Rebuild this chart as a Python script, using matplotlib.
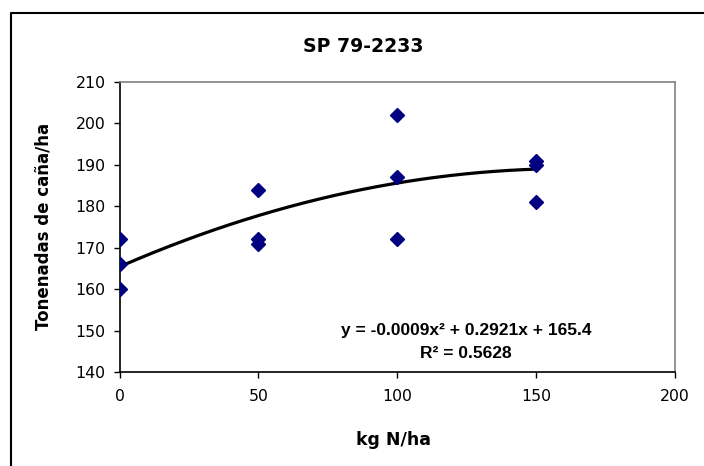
import numpy as np
import matplotlib
matplotlib.use("Agg")
import matplotlib.pyplot as plt
from matplotlib.lines import Line2D

# datos
dosis_n = [0, 0, 0, 50, 50, 50, 100, 100, 100, 150, 150, 150]
toneladas = [172, 166, 160, 184, 172, 171, 202, 187, 172, 191, 190, 181]

# coeficientes de la linea de tendencia (polinomica de grado 2)
coef = [-0.0009, 0.2921, 165.4]
r2 = 0.5628

titulo = "SP 79-2233"
etiqueta_x = "kg N/ha"
etiqueta_y = "Tonenadas de caña/ha"
xticks = [0, 50, 100, 150, 200]
yticks = [140, 150, 160, 170, 180, 190, 200, 210]

W, H = 704, 466
fig = plt.figure(figsize=(W / 100, H / 100), dpi=100)
ax = fig.add_axes([119.5 / W, 1 - 372 / H, (675 - 119.5) / W, 290 / H])

# puntos
ax.plot(dosis_n, toneladas, linestyle="none", marker="D", markersize=7,
        color="#000080", zorder=3)

# tendencia
xt = np.linspace(0, 150, 200)
ax.plot(xt, np.polyval(coef, xt), color="black", linewidth=2.3, zorder=2)

ax.set_xlim(0, 200)
ax.set_ylim(140, 210)
ax.set_xticks(xticks)
ax.set_yticks(yticks)
ax.tick_params(axis="both", direction="out", length=4, width=1,
               labelsize=11.3, colors="black")
ax.tick_params(axis="x", pad=8)
ax.tick_params(axis="y", pad=6)

for s in ["top", "right"]:
    ax.spines[s].set_color("#808080")
    ax.spines[s].set_linewidth(1.2)
for s in ["left", "bottom"]:
    ax.spines[s].set_color("black")
    ax.spines[s].set_linewidth(1.2)

# textos
fig.text(363 / W, 1 - 47 / H, titulo, ha="center", va="center",
         fontsize=13.6, fontweight="bold")
fig.text(393 / W, 1 - 440 / H, etiqueta_x, ha="center", va="center",
         fontsize=12.5, fontweight="bold")
fig.text(44 / W, 1 - 226 / H, etiqueta_y, ha="center", va="center",
         rotation=90, fontsize=12, fontweight="bold")

eq = f"y = {coef[0]:.4f}x² + {coef[1]:.4f}x + {coef[2]:.1f}"
fig.text(466 / W, 1 - 331 / H, eq, ha="center", va="center",
         fontsize=12.5, fontweight="bold", family="Liberation Sans")
fig.text(466 / W, 1 - 353 / H, f"R² = {r2:.4f}", ha="center", va="center",
         fontsize=12.5, fontweight="bold", family="Liberation Sans")

# marco exterior (solo izquierda y arriba visibles)
fig.add_artist(Line2D([10.5 / W, 10.5 / W, 1], [0, 1 - 12.5 / H, 1 - 12.5 / H],
                      transform=fig.transFigure, color="black", linewidth=1.5))

fig.savefig("out.png", dpi=100)
